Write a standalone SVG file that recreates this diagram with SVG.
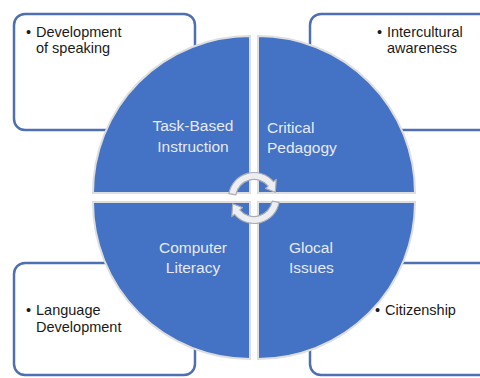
<svg xmlns="http://www.w3.org/2000/svg" width="480" height="378" viewBox="0 0 480 378">
<style>
.box{fill:#ffffff;stroke:#4f6fb3;stroke-width:2.5}
.quad{fill:#4472c4;stroke:#dedede;stroke-width:2}
.qt{font-family:"Liberation Sans",Arial,sans-serif;font-size:15.5px;fill:#e4eaf6}
.bt{font-family:"Liberation Sans",Arial,sans-serif;font-size:14.5px;fill:#1a1a1a}
.arrow{fill:#eceef2;stroke:#a9adb5;stroke-width:1.2;stroke-linejoin:round}
</style>
<rect width="480" height="378" fill="#ffffff"/>
<g id="box-tl"><rect class="box" x="14" y="14" width="181" height="116" rx="11"/>
<text class="bt" x="26" y="37">•</text><text class="bt" x="36" y="37">Development</text><text class="bt" x="36" y="53">of speaking</text></g>
<g id="box-tr"><rect class="box" x="310" y="14" width="190" height="116" rx="11"/>
<text class="bt" x="377" y="37">•</text><text class="bt" x="387" y="37">Intercultural</text><text class="bt" x="387" y="53">awareness</text></g>
<g id="box-bl"><rect class="box" x="14" y="263" width="181" height="112" rx="11"/>
<text class="bt" x="26" y="315">•</text><text class="bt" x="36" y="315">Language</text><text class="bt" x="36" y="332">Development</text></g>
<g id="box-br"><rect class="box" x="310" y="263" width="190" height="112" rx="11"/>
<text class="bt" x="375" y="315">•</text><text class="bt" x="385" y="315">Citizenship</text></g>
<g id="q-tl"><path class="quad" d="M250,193 L93,193 A157,157 0 0 1 250,36 Z"/>
<text class="qt" x="193" y="131" text-anchor="middle">Task-Based</text><text class="qt" x="193" y="152" text-anchor="middle">Instruction</text></g>
<g id="q-tr"><path class="quad" d="M258,193 L258,36 A157,157 0 0 1 415,193 Z"/>
<text class="qt" x="267" y="133">Critical</text><text class="qt" x="267" y="153">Pedagogy</text></g>
<g id="q-bl"><path class="quad" d="M250,202 L250,359 A157,157 0 0 1 93,202 Z"/>
<text class="qt" x="193" y="253" text-anchor="middle">Computer</text><text class="qt" x="193" y="273" text-anchor="middle">Literacy</text></g>
<g id="q-br"><path class="quad" d="M258,202 L415,202 A157,157 0 0 1 258,359 Z"/>
<text class="qt" x="289" y="253">Glocal</text><text class="qt" x="289" y="273">Issues</text></g>
<g id="connectors">
<path class="arrow" d="M228.9,193.6 A25.5,25.5 0 0 1 273.5,181.6 L276.2,179.4 L275.3,192.3 L265.5,188.4 L268.2,186.1 A18.5,18.5 0 0 0 235.8,194.8 Z"/>
<path class="arrow" d="M279.1,202.4 A25.5,25.5 0 0 1 234.5,214.4 L231.8,216.6 L232.7,203.7 L242.5,207.6 L239.8,209.9 A18.5,18.5 0 0 0 272.2,201.2 Z"/>
</g>
</svg>
